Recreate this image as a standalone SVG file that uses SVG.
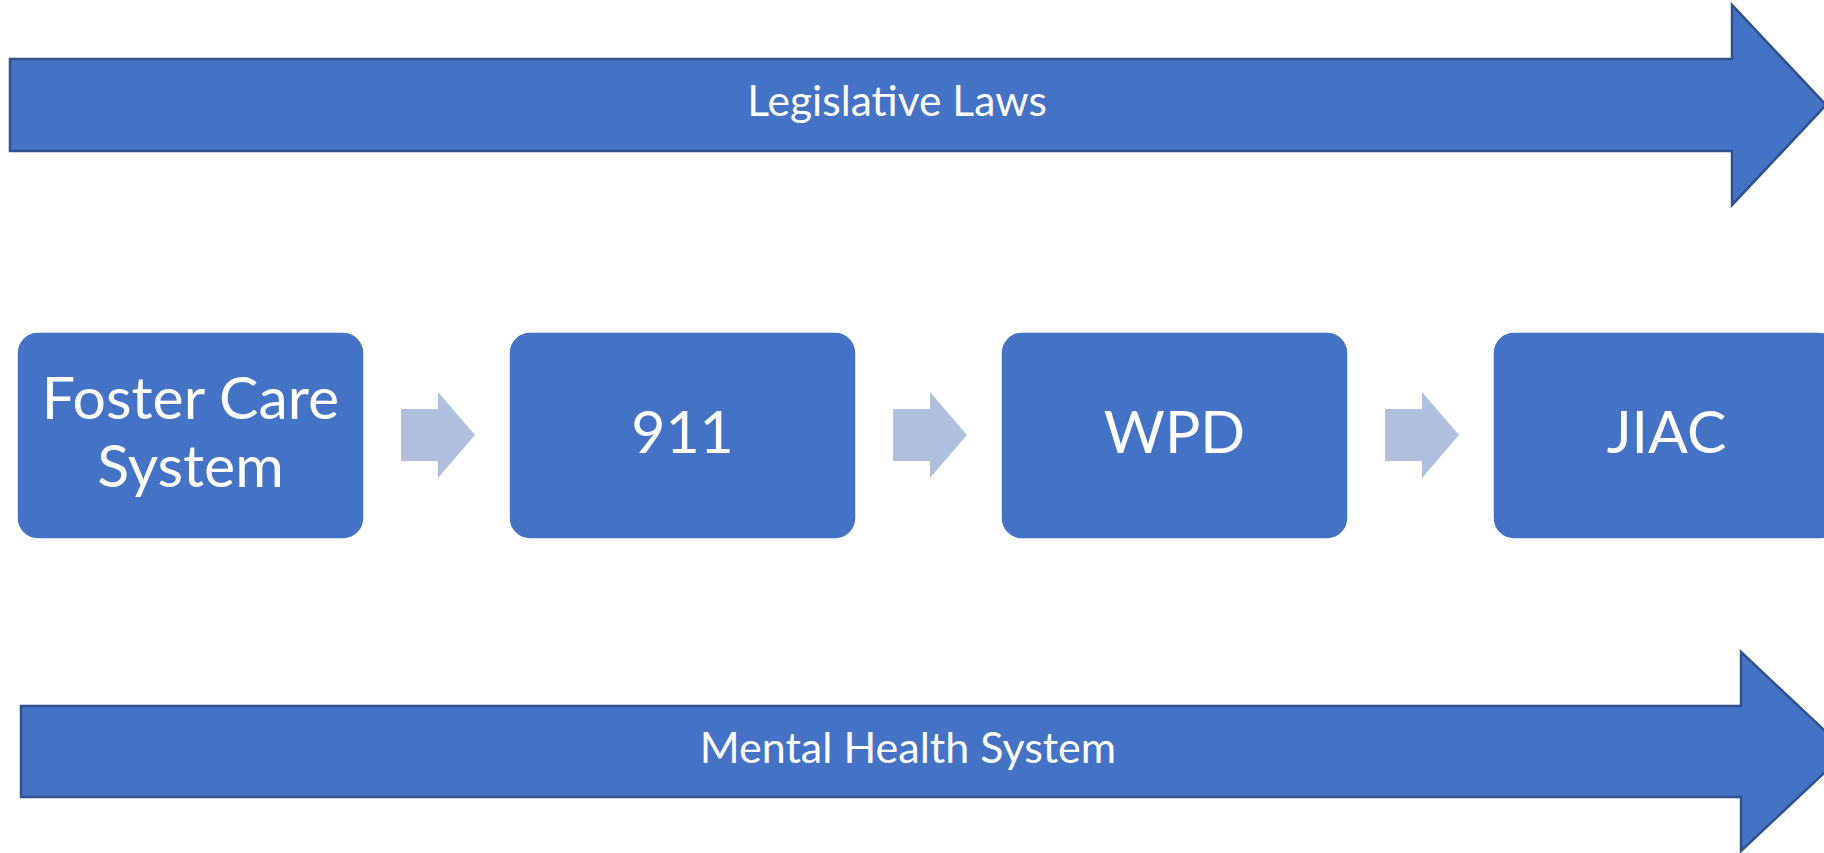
<svg xmlns="http://www.w3.org/2000/svg" width="1824" height="853" viewBox="0 0 1824 853">
<style>
.big{fill:#4472C4;stroke:#2F528F;stroke-width:2.5;stroke-linejoin:miter}
.box{fill:#4472C4;stroke:#FFFFFF;stroke-width:1.5}
.conn{fill:#B1BFDF}
.lbl{fill:#FFFFFF;font-family:Lato,"Open Sans","Liberation Sans",sans-serif;text-anchor:middle}
.bl{font-size:42.5px}
.bl2{font-size:43px}
.nl{font-size:59px}
</style>
<rect width="1824" height="853" fill="#FFFFFF"/>
<g id="legislative-laws">
<polygon class="big" points="10,59 1732,59 1732,5 1826,105 1732,205 1732,151 10,151"/>
<text class="lbl bl" x="897" y="116">Legislative Laws</text>
</g>
<g id="mental-health-system">
<polygon class="big" points="21,706 1741,706 1741,652 1847,751.5 1741,851 1741,797 21,797"/>
<text class="lbl bl2" x="908" y="763">Mental Health System</text>
</g>
<g id="connectors">
<polygon class="conn" points="401,409 438,409 438,392 475,435 438,478 438,461 401,461"/>
<polygon class="conn" points="893,409 930,409 930,392 967,435 930,478 930,461 893,461"/>
<polygon class="conn" points="1385,409 1422,409 1422,392 1459,435 1422,478 1422,461 1385,461"/>
</g>
<g id="foster-care-system">
<rect class="box" x="17" y="332" width="347" height="207" rx="21"/>
<text class="lbl nl" x="190.5" y="419">Foster Care</text>
<text class="lbl nl" x="190.5" y="487">System</text>
</g>
<g id="n911">
<rect class="box" x="509" y="332" width="347" height="207" rx="21"/>
<text class="lbl nl" x="682.5" y="453">911</text>
</g>
<g id="wpd">
<rect class="box" x="1001" y="332" width="347" height="207" rx="21"/>
<text class="lbl nl" x="1174.5" y="453">WPD</text>
</g>
<g id="jiac">
<rect class="box" x="1493" y="332" width="347" height="207" rx="21"/>
<text class="lbl nl" x="1666.5" y="453">JIAC</text>
</g>
</svg>
